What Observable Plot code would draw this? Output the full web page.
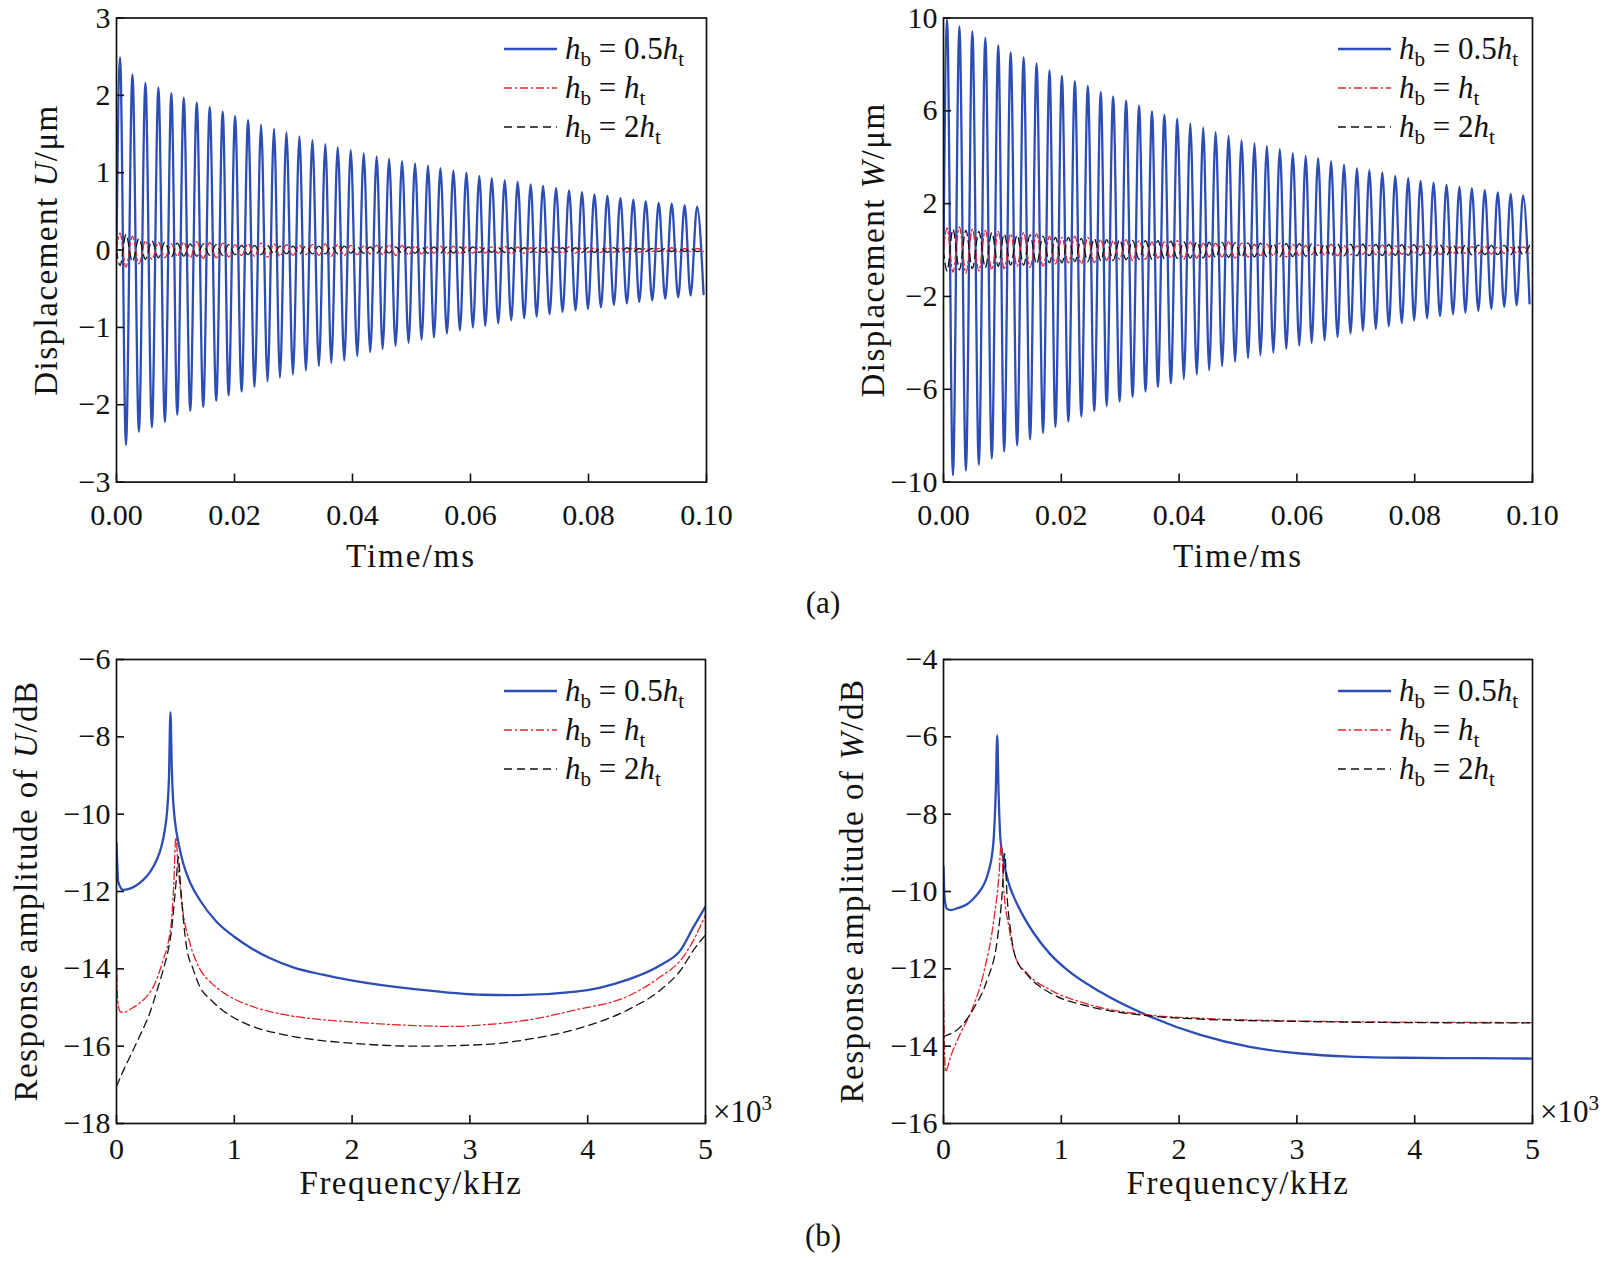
<!DOCTYPE html>
<html><head><meta charset="utf-8">
<script src="https://cdn.jsdelivr.net/npm/d3@7"></script>
<script src="https://cdn.jsdelivr.net/npm/@observablehq/plot@0.6"></script>
<style>
html,body{margin:0;padding:0;background:#fff;}
#root{position:relative;width:1614px;height:1262px;overflow:hidden;background:#fff;}
.panel{position:absolute;}
.panel svg{overflow:visible;}
#overlay{position:absolute;left:0;top:0;pointer-events:none;}
</style></head><body><div id="root"></div>
<script>
// ---------- data: time responses (extremum times in ms, peak / trough values in µm) ----------
const tExt = [
0.0006,0.0016,0.0027,0.0038,0.0049,0.0060,0.0071,0.0082,0.0093,0.0103,
0.0114,0.0125,0.0136,0.0147,0.0158,0.0169,0.0180,0.0190,0.0201,0.0212,
0.0223,0.0234,0.0245,0.0256,0.0267,0.0277,0.0288,0.0299,0.0310,0.0321,
0.0332,0.0343,0.0354,0.0364,0.0375,0.0386,0.0397,0.0408,0.0419,0.0430,
0.0441,0.0451,0.0462,0.0473,0.0484,0.0495,0.0506,0.0517,0.0528,0.0538,
0.0549,0.0560,0.0571,0.0582,0.0593,0.0604,0.0615,0.0625,0.0636,0.0647,
0.0658,0.0669,0.0680,0.0691,0.0702,0.0712,0.0723,0.0734,0.0745,0.0756,
0.0767,0.0778,0.0789,0.0799,0.0810,0.0821,0.0832,0.0843,0.0854,0.0865,
0.0876,0.0886,0.0897,0.0908,0.0919,0.0930,0.0941,0.0952,0.0963,0.0973,
0.0984,0.0995];
const uBluePeaks = [2.49,2.27,2.16,2.10,2.03,1.97,1.91,1.85,1.79,1.73,1.68,1.62,1.57,1.52,1.47,1.42,1.37,1.33,1.29,1.25,
1.21,1.18,1.15,1.12,1.09,1.06,1.03,1.00,0.96,0.93,0.90,0.88,0.85,0.83,0.80,0.77,0.75,0.72,0.70,0.67,0.65,0.63,0.61,0.60,0.58,0.56];
const uBlueTroughs = [-2.52,-2.35,-2.29,-2.22,-2.13,-2.08,-2.03,-1.95,-1.88,-1.83,-1.77,-1.70,-1.65,-1.61,-1.56,-1.50,-1.46,-1.43,-1.37,-1.32,
-1.28,-1.24,-1.20,-1.16,-1.13,-1.08,-1.04,-1.00,-0.98,-0.95,-0.91,-0.88,-0.86,-0.83,-0.80,-0.78,-0.76,-0.74,-0.71,-0.69,-0.67,-0.65,-0.63,-0.61,-0.59,-0.57];
const uRedAmp = [0.22,0.18,0.12,0.10,0.08,0.10,0.11,0.10,0.09,0.07,0.08,0.09,0.08,0.07,0.06,0.07,0.08,0.07,0.06,0.05,
0.06,0.07,0.06,0.05,0.04,0.05,0.05,0.04,0.04,0.04,0.05,0.04,0.03,0.03,0.04,0.04,0.03,0.03,0.03,0.03,0.03,0.02,0.02,0.03,0.02,0.02];
const uBlackAmp = [0.20,0.15,0.12,0.10,0.09,0.08,0.08,0.07,0.07,0.06,0.06,0.06,0.05,0.05,0.05,0.05,0.05,0.05,0.04,0.04,
0.04,0.04,0.04,0.04,0.04,0.04,0.04,0.04,0.03,0.03,0.03,0.03,0.03,0.03,0.03,0.03,0.03,0.03,0.03,0.03,0.02,0.02,0.02,0.02,0.02,0.02];
const wBluePeaks = [9.95,9.64,9.42,9.14,8.82,8.52,8.30,8.03,7.74,7.50,7.28,7.07,6.81,6.62,6.44,6.22,5.97,5.82,5.66,5.46,
5.28,5.08,4.92,4.72,4.60,4.48,4.35,4.18,4.06,3.96,3.82,3.68,3.53,3.44,3.35,3.20,3.10,2.98,2.90,2.81,2.72,2.66,2.58,2.48,2.42,2.35];
const wBlueTroughs = [-9.70,-9.50,-9.25,-8.98,-8.68,-8.42,-8.16,-7.88,-7.62,-7.39,-7.17,-6.94,-6.72,-6.53,-6.33,-6.10,-5.90,-5.74,-5.56,-5.37,
-5.18,-5.00,-4.82,-4.66,-4.54,-4.42,-4.26,-4.12,-4.01,-3.89,-3.75,-3.60,-3.48,-3.40,-3.28,-3.15,-3.04,-2.94,-2.85,-2.76,-2.69,-2.62,-2.53,-2.45,-2.38,-2.30];
const wRedAmp = [0.95,1.00,0.90,0.85,0.80,0.70,0.75,0.70,0.60,0.55,0.60,0.55,0.45,0.40,0.45,0.40,0.35,0.35,0.40,0.35,
0.30,0.30,0.35,0.30,0.25,0.25,0.30,0.25,0.20,0.22,0.25,0.20,0.18,0.20,0.22,0.18,0.15,0.18,0.20,0.16,0.14,0.15,0.17,0.14,0.12,0.14];
const wBlackAmp = [0.90,0.85,0.80,0.75,0.70,0.65,0.65,0.60,0.55,0.55,0.50,0.50,0.45,0.45,0.42,0.40,0.40,0.38,0.36,0.35,
0.34,0.33,0.32,0.31,0.30,0.29,0.28,0.28,0.27,0.26,0.26,0.25,0.25,0.24,0.24,0.23,0.23,0.22,0.22,0.22,0.21,0.21,0.20,0.20,0.20,0.20];

// ---------- data: frequency responses (frequency ×10^3 kHz, amplitude dB) ----------
const uBlueF  = [0,0.015,0.057,0.1,0.16,0.227,0.29,0.34,0.38,0.41,0.43,0.445,0.458,0.47,0.48,0.495,0.53,0.566,0.63,0.707,0.849,1.0,1.13,1.3,1.5,1.75,1.98,2.55,3.11,3.4,3.9,4.1,4.34,4.62,4.79,4.9,5.0];
const uBlueDb = [-10.74,-11.75,-11.96,-11.94,-11.86,-11.70,-11.47,-11.19,-10.85,-10.41,-9.9,-9.1,-7.36,-8.9,-9.6,-10.15,-10.8,-11.27,-11.8,-12.22,-12.78,-13.17,-13.44,-13.72,-13.96,-14.15,-14.29,-14.53,-14.67,-14.68,-14.59,-14.49,-14.28,-13.9,-13.51,-12.91,-12.39];
const uRedF  = [0,0.01,0.03,0.057,0.12,0.2,0.26,0.31,0.35,0.396,0.44,0.467,0.485,0.504,0.52,0.54,0.566,0.62,0.707,0.8,0.9,1.0,1.13,1.415,1.7,1.98,2.55,2.83,3.11,3.5,3.9,4.34,4.62,4.79,4.9,5.0];
const uRedDb = [-13.72,-14.8,-15.1,-15.13,-15.04,-14.88,-14.7,-14.48,-14.2,-13.77,-13.3,-12.74,-11.9,-10.6,-11.2,-11.9,-12.56,-13.3,-14.0,-14.35,-14.6,-14.78,-14.95,-15.18,-15.3,-15.37,-15.47,-15.49,-15.45,-15.32,-15.06,-14.71,-14.2,-13.77,-13.25,-12.6];
const uBlackF  = [0,0.06,0.113,0.2,0.283,0.34,0.396,0.44,0.467,0.49,0.51,0.524,0.545,0.57,0.594,0.65,0.707,0.8,0.9,1.0,1.13,1.415,1.7,1.98,2.55,3.11,3.5,3.9,4.34,4.62,4.79,4.9,5.0];
const uBlackDb = [-17.04,-16.62,-16.28,-15.72,-15.14,-14.6,-14.03,-13.5,-13.0,-12.3,-11.6,-11.1,-11.9,-12.8,-13.42,-14.0,-14.46,-14.8,-15.07,-15.27,-15.46,-15.7,-15.84,-15.92,-16.0,-15.96,-15.82,-15.56,-15.06,-14.54,-14.03,-13.51,-13.12];
const wBlueF  = [0,0.01,0.03,0.06,0.12,0.2,0.26,0.315,0.36,0.385,0.41,0.427,0.444,0.456,0.467,0.484,0.505,0.526,0.56,0.597,0.68,0.767,0.9,1.05,1.333,1.757,2.18,2.6,3.03,3.45,3.9,4.5,5.0];
const wBlueDb = [-9.36,-10.2,-10.45,-10.48,-10.43,-10.33,-10.17,-9.96,-9.7,-9.45,-9.1,-8.59,-7.38,-5.96,-7.38,-8.67,-9.1,-9.45,-9.85,-10.14,-10.65,-11.08,-11.6,-12.03,-12.6,-13.24,-13.71,-14.02,-14.19,-14.27,-14.3,-14.31,-14.32];
const wRedF  = [0,0.017,0.06,0.144,0.24,0.34,0.427,0.47,0.49,0.51,0.555,0.61,0.71,0.91,1.19,1.333,1.757,2.18,3.03,3.9,5.0];
const wRedDb = [-12.63,-14.66,-14.27,-13.67,-13.07,-12.12,-10.74,-9.62,-8.76,-9.88,-10.91,-11.69,-12.12,-12.55,-12.88,-13.0,-13.2,-13.28,-13.35,-13.38,-13.39];
const wBlackF  = [0,0.144,0.257,0.37,0.456,0.498,0.52,0.54,0.569,0.61,0.71,0.91,1.19,1.333,1.757,2.18,3.03,3.9,5.0];
const wBlackDb = [-13.75,-13.5,-13.02,-12.29,-11.26,-10.05,-9.02,-10.14,-11.0,-11.69,-12.15,-12.63,-12.94,-13.04,-13.22,-13.3,-13.36,-13.39,-13.4];

// ---------- ticks ----------
const timeTicks = [0,0.02,0.04,0.06,0.08,0.10];
const uTicks = [-3,-2,-1,0,1,2,3];
const wTicks = [-10,-6,-2,2,6,10];
const freqTicks = [0,1,2,3,4,5];
const uDbTicks = [-18,-16,-14,-12,-10,-8,-6];
const wDbTicks = [-16,-14,-12,-10,-8,-6,-4];

// ---------- styles ----------
const FONT = '"Liberation Serif", "DejaVu Serif", serif';
const BLUE = "#2c4db5", RED = "#e3242b", BLACK = "#111111";
const STY = {
  blue:  {stroke: BLUE, w: 2.3, dash: null},
  red:   {stroke: RED, w: 1.3, dash: "8,3,2,3"},
  black: {stroke: BLACK, w: 1.3, dash: "8,5"}
};

function oscSeries(times, peaks, troughs) {
  const out = [{t: 0, v: 0}];
  times.forEach((t, n) => out.push({t, v: n % 2 === 0 ? peaks[n >> 1] : troughs[n >> 1]}));
  return out;
}
function smallSeries(times, amp, sign) {
  const out = [{t: 0, v: 0}];
  times.forEach((t, n) => out.push({t, v: (n % 2 === 0 ? 1 : -1) * sign * amp[n >> 1]}));
  return out;
}
function pairs(f, db) { return f.map((x, i) => ({t: x, v: db[i]})); }

const root = document.getElementById("root");

function makePanel(c) {
  const marks = c.lines.map(l => Plot.line(l.data, {
    x: "t", y: "v", stroke: STY[l.s].stroke, strokeWidth: STY[l.s].w,
    strokeDasharray: STY[l.s].dash, curve: "monotone-x", clip: true
  }));
  marks.push(Plot.frame({stroke: "#111", strokeWidth: 1.7}));
  marks.push(Plot.axisX(c.xTicks, {tickSize: -8, tickPadding: c.xPad, tickFormat: c.xFormat, strokeWidth: 1.6, label: null}));
  marks.push(Plot.axisY(c.yTicks, {tickSize: -8, tickPadding: 14, tickFormat: d3.format("d"), strokeWidth: 1.6, label: null}));
  const svg = Plot.plot({
    width: c.width, height: c.height,
    marginLeft: c.px0 - c.left, marginRight: c.left + c.width - c.px1,
    marginTop: c.py0 - c.top, marginBottom: c.top + c.height - c.py1,
    x: {domain: c.xDomain}, y: {domain: c.yDomain},
    style: {fontFamily: FONT, fontSize: "30px", color: "#111", background: "transparent", overflow: "visible"},
    marks
  });
  const div = document.createElement("div");
  div.className = "panel";
  div.style.left = c.left + "px"; div.style.top = c.top + "px";
  div.style.width = c.width + "px"; div.style.height = c.height + "px";
  div.appendChild(svg);
  root.appendChild(div);
}

makePanel({left: 0, top: 0, width: 780, height: 560, px0: 116, px1: 706, py0: 17.5, py1: 481.6, xPad: 30,
  xDomain: [0, 0.1], yDomain: [-3, 3], xTicks: timeTicks, yTicks: uTicks, xFormat: d3.format(".2f"),
  lines: [
    {s: "blue", data: oscSeries(tExt, uBluePeaks, uBlueTroughs)},
    {s: "red", data: smallSeries(tExt, uRedAmp, 1)},
    {s: "black", data: smallSeries(tExt, uBlackAmp, -1)}
  ]});
makePanel({left: 800, top: 0, width: 814, height: 560, px0: 943, px1: 1532, py0: 17.5, py1: 481.6, xPad: 30,
  xDomain: [0, 0.1], yDomain: [-10, 10], xTicks: timeTicks, yTicks: wTicks, xFormat: d3.format(".2f"),
  lines: [
    {s: "blue", data: oscSeries(tExt, wBluePeaks, wBlueTroughs)},
    {s: "red", data: smallSeries(tExt, wRedAmp, 1)},
    {s: "black", data: smallSeries(tExt, wBlackAmp, -1)}
  ]});
makePanel({left: 0, top: 600, width: 780, height: 620, px0: 116, px1: 705, py0: 659, py1: 1123, xPad: 22,
  xDomain: [0, 5], yDomain: [-18, -6], xTicks: freqTicks, yTicks: uDbTicks, xFormat: d3.format("d"),
  lines: [
    {s: "blue", data: pairs(uBlueF, uBlueDb)},
    {s: "red", data: pairs(uRedF, uRedDb)},
    {s: "black", data: pairs(uBlackF, uBlackDb)}
  ]});
makePanel({left: 800, top: 600, width: 814, height: 620, px0: 943, px1: 1532, py0: 659, py1: 1123, xPad: 22,
  xDomain: [0, 5], yDomain: [-16, -4], xTicks: freqTicks, yTicks: wDbTicks, xFormat: d3.format("d"),
  lines: [
    {s: "blue", data: pairs(wBlueF, wBlueDb)},
    {s: "red", data: pairs(wRedF, wRedDb)},
    {s: "black", data: pairs(wBlackF, wBlackDb)}
  ]});

// ---------- overlay: titles, legends, captions ----------
const ov = d3.select(root).append("svg").attr("id", "overlay")
  .attr("width", 1614).attr("height", 1262)
  .style("font-family", FONT).style("white-space", "pre");

function rich(sel, parts, size) {
  let shift = 0;
  parts.forEach(p => {
    const ts = sel.append("tspan").text(p.t);
    let target = 0;
    if (p.sub) { ts.attr("font-size", size * 0.68); target = size * 0.24; }
    else if (p.sup) { ts.attr("font-size", size * 0.68); target = -size * 0.4; }
    if (p.i) ts.attr("font-style", "italic");
    if (target !== shift) { ts.attr("dy", target - shift); shift = target; }
  });
}

const legendLabels = [
  [{t: "h", i: 1}, {t: "b", sub: 1}, {t: " = 0.5"}, {t: "h", i: 1}, {t: "t", sub: 1}],
  [{t: "h", i: 1}, {t: "b", sub: 1}, {t: " = "}, {t: "h", i: 1}, {t: "t", sub: 1}],
  [{t: "h", i: 1}, {t: "b", sub: 1}, {t: " = 2"}, {t: "h", i: 1}, {t: "t", sub: 1}]
];
const legendKeys = ["blue", "red", "black"];
function legend(x0, y0) {
  legendKeys.forEach((k, i) => {
    const y = y0 + i * 39;
    ov.append("line").attr("x1", x0).attr("x2", x0 + 53).attr("y1", y).attr("y2", y)
      .attr("stroke", STY[k].stroke).attr("stroke-width", STY[k].w)
      .attr("stroke-dasharray", STY[k].dash);
    const t = ov.append("text").attr("x", x0 + 61).attr("y", y + 10).attr("font-size", 31).attr("fill", "#111");
    rich(t, legendLabels[i], 31);
  });
}
legend(504, 49);
legend(1338, 49);
legend(504, 691);
legend(1338, 691);

function yTitle(x, y, parts) {
  const t = ov.append("text").attr("transform", `translate(${x},${y}) rotate(-90)`)
    .attr("text-anchor", "middle").attr("dominant-baseline", "central")
    .attr("font-size", 33).attr("letter-spacing", "1.5px").attr("fill", "#111");
  rich(t, parts, 33);
}
yTitle(46, 250, [{t: "Displacement  "}, {t: "U", i: 1}, {t: "/μm"}]);
yTitle(873, 250, [{t: "Displacement  "}, {t: "W", i: 1}, {t: "/μm"}]);
yTitle(26, 891, [{t: "Response amplitude of "}, {t: "U", i: 1}, {t: "/dB"}]);
yTitle(852, 891, [{t: "Response amplitude of "}, {t: "W", i: 1}, {t: "/dB"}]);

function cText(x, y, str, size, ls) {
  ov.append("text").attr("x", x).attr("y", y).attr("text-anchor", "middle")
    .attr("dominant-baseline", "central").attr("font-size", size)
    .attr("letter-spacing", ls || "0px").attr("fill", "#111").text(str);
}
cText(411, 556, "Time/ms", 33, "2px");
cText(1238, 556, "Time/ms", 33, "2px");
cText(411, 1183, "Frequency/kHz", 33, "1.5px");
cText(1238, 1183, "Frequency/kHz", 33, "1.5px");
cText(823, 602, "(a)", 31);
cText(823, 1235, "(b)", 31);

function times10(x, y) {
  const t = ov.append("text").attr("x", x).attr("y", y).attr("font-size", 31).attr("fill", "#111");
  rich(t, [{t: "×10"}, {t: "3", sup: 1}], 31);
}
times10(713, 1122);
times10(1540, 1122);
</script></body></html>
